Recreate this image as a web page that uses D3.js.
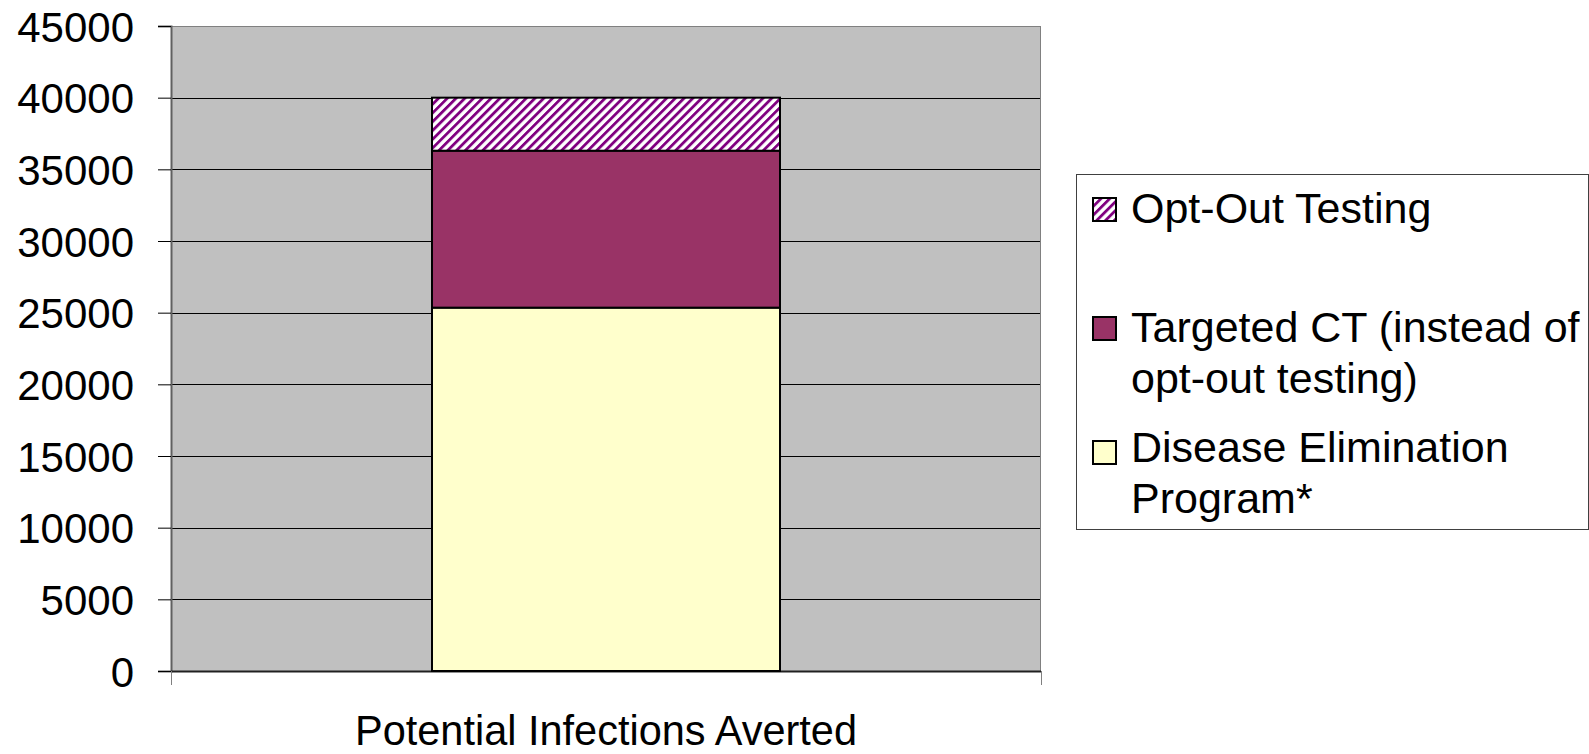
<!DOCTYPE html>
<html>
<head>
<meta charset="utf-8">
<script src="https://cdn.jsdelivr.net/npm/d3@7"></script>
<style>
  html, body { margin: 0; padding: 0; background: #fff; }
  svg { display: block; font-family: "Liberation Sans", Arial, sans-serif; }
</style>
</head>
<body>
<svg id="chart" width="1589" height="754"></svg>
<script>
// ---- data ----
const categories = ["Potential Infections Averted"];
const seriesNames = ["Disease Elimination Program*", "Targeted CT (instead of opt-out testing)", "Opt-Out Testing"];
const diseaseElimination = [25350];
const targetedCT = [10950];
const optOutTesting = [3700];
const yTicks = [0, 5000, 10000, 15000, 20000, 25000, 30000, 35000, 40000, 45000];
const legendLines = [
  ["Opt-Out Testing"],
  ["Targeted CT (instead of", "opt-out testing)"],
  ["Disease Elimination", "Program*"]
];

// ---- layout ----
const svg = d3.select("#chart");
const plot = { left: 171, right: 1041, top: 26, bottom: 671 };

const x = d3.scaleBand().domain(categories).range([plot.left, plot.right])
  .paddingInner(0.6).paddingOuter(0.3);
const y = d3.scaleLinear().domain([0, 45000]).range([plot.bottom, plot.top]);

// hatch pattern
const defs = svg.append("defs");
const pat = defs.append("pattern").attr("id", "hatch")
  .attr("patternUnits", "userSpaceOnUse").attr("width", 6.2).attr("height", 6.2)
  .attr("patternTransform", "rotate(45)");
pat.append("rect").attr("width", 6.2).attr("height", 6.2).attr("fill", "#ffffff");
pat.append("rect").attr("x", 0).attr("width", 2.8).attr("height", 6.2).attr("fill", "#800080");

// plot background
svg.append("rect").attr("x", plot.left).attr("y", plot.top)
  .attr("width", plot.right - plot.left).attr("height", plot.bottom - plot.top)
  .attr("fill", "#c0c0c0");

// gridlines
svg.append("g").selectAll("line").data(yTicks.filter(d => d > 0)).join("line")
  .attr("x1", plot.left).attr("x2", plot.right)
  .attr("y1", d => Math.round(y(d)) + 0.5).attr("y2", d => Math.round(y(d)) + 0.5)
  .attr("stroke", "#000").attr("stroke-width", 1);

// plot border
svg.append("rect").attr("x", plot.left + 0.5).attr("y", plot.top + 0.5)
  .attr("width", plot.right - plot.left - 1).attr("height", plot.bottom - plot.top)
  .attr("fill", "none").attr("stroke", "#808080").attr("stroke-width", 1);

// y axis
const yAxis = d3.axisLeft(y).tickValues(yTicks).tickSize(13).tickPadding(24).tickFormat(d3.format("d"));
const gy = svg.append("g").attr("transform", `translate(${plot.left},0)`).call(yAxis);
gy.select(".domain").attr("stroke", "#606060").attr("stroke-width", 2);
gy.selectAll(".tick line").attr("stroke", "#000");
gy.selectAll(".tick text").attr("font-size", 42).attr("fill", "#000")
  .attr("font-family", "Liberation Sans, Arial, sans-serif").attr("dy", "0.36em");

// x axis line + end ticks
svg.append("line").attr("x1", plot.left).attr("x2", plot.right)
  .attr("y1", plot.bottom + 0.5).attr("y2", plot.bottom + 0.5)
  .attr("stroke", "#202020").attr("stroke-width", 2);
svg.append("g").selectAll("line").data([plot.left, plot.right]).join("line")
  .attr("x1", d => d + 0.5).attr("x2", d => d + 0.5)
  .attr("y1", plot.bottom).attr("y2", plot.bottom + 14)
  .attr("stroke", "#808080").attr("stroke-width", 1);

// stacked bars
const table = categories.map((c, i) => ({
  cat: c, dep: diseaseElimination[i], ct: targetedCT[i], opt: optOutTesting[i]
}));
const stack = d3.stack().keys(["dep", "ct", "opt"]);
const stacked = stack(table);
const fills = { dep: "#ffffcc", ct: "#993366", opt: "url(#hatch)" };

svg.append("g").selectAll("g").data(stacked).join("g")
  .attr("fill", d => fills[d.key])
  .selectAll("rect").data(d => d).join("rect")
  .attr("x", d => x(d.data.cat))
  .attr("y", d => y(d[1]))
  .attr("width", x.bandwidth())
  .attr("height", d => y(d[0]) - y(d[1]))
  .attr("stroke", "#000").attr("stroke-width", 2);

// category label
svg.append("text").attr("x", x(categories[0]) + x.bandwidth() / 2).attr("y", 745)
  .attr("text-anchor", "middle").attr("font-size", 43)
  .attr("textLength", 502).attr("lengthAdjust", "spacingAndGlyphs")
  .text(categories[0]);

// legend
const lg = svg.append("g");
lg.append("rect").attr("x", 1076.5).attr("y", 174.5).attr("width", 512).attr("height", 355)
  .attr("fill", "#fff").attr("stroke", "#404040").attr("stroke-width", 1);

const legendFills = ["url(#hatch)", "#993366", "#ffffcc"];
const swatchY = [198, 317, 441];
const baseY = [223, 342, 462];
legendLines.forEach((lines, i) => {
  lg.append("rect").attr("x", 1093).attr("y", swatchY[i]).attr("width", 23).attr("height", 23)
    .attr("fill", legendFills[i]).attr("stroke", "#000").attr("stroke-width", 2);
  const t = lg.append("text").attr("x", 1131).attr("y", baseY[i]).attr("font-size", 43).attr("fill", "#000");
  lines.forEach((ln, j) => {
    t.append("tspan").attr("x", 1131).attr("y", baseY[i] + j * 51).text(ln);
  });
});
</script>
</body>
</html>
